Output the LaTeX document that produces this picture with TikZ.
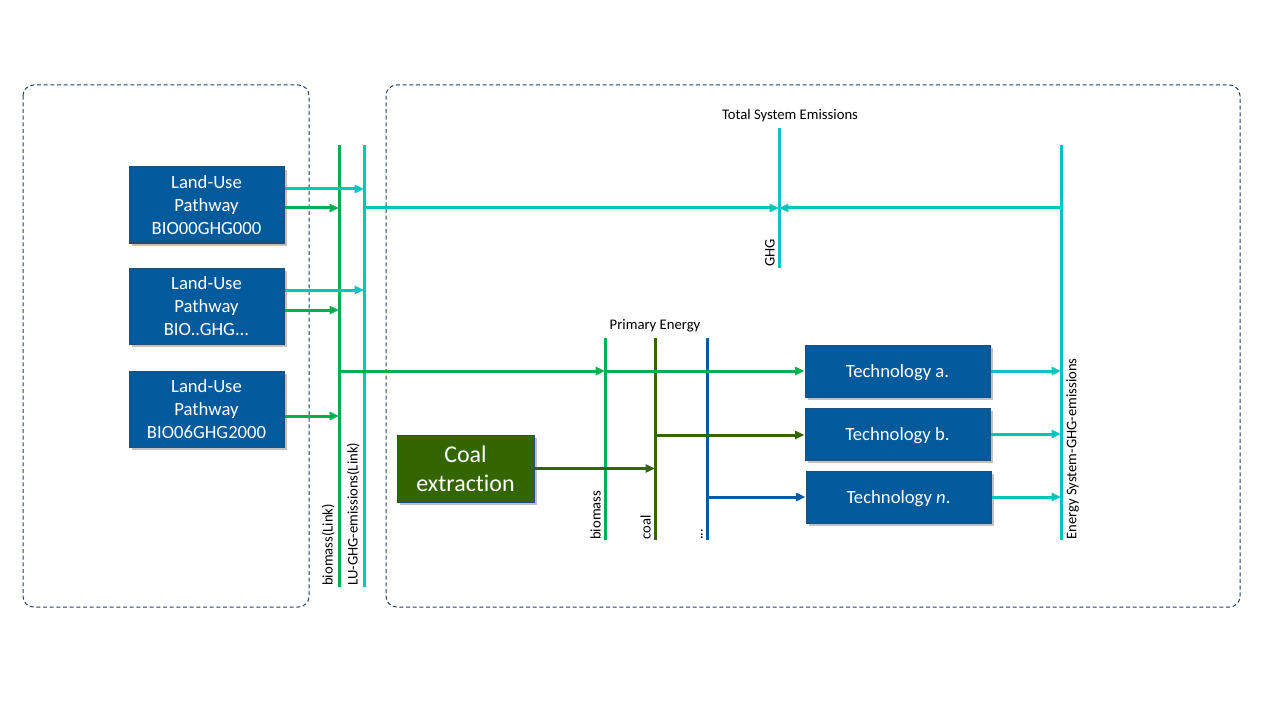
\documentclass[tikz,border=0pt]{standalone}
\usepackage{fontspec}
\setmainfont{Carlito}[RawFeature={-liga;-calt;-dlig}]
\usetikzlibrary{arrows.meta,shadows}
\definecolor{boxblue}{HTML}{005A9C}
\definecolor{boxedge}{HTML}{1F4E79}
\definecolor{coalgreen}{HTML}{336600}
\definecolor{lgreen}{HTML}{00B050}
\definecolor{ghgcyan}{HTML}{00C4BE}
\definecolor{busblue}{HTML}{0A5AA0}
\definecolor{dashblue}{HTML}{1F3F66}
\tikzset{
  region/.style={draw=dashblue, line width=0.75pt, dash pattern=on 3pt off 2pt, rounded corners=8pt},
  procbox/.style={draw=boxedge, line width=0.75pt, fill=boxblue, text=white, align=center,
    font=\fontsize{14}{17}\selectfont, inner sep=0pt,
    drop shadow={shadow xshift=2pt, shadow yshift=-2pt, opacity=0.35, fill=black!70}},
  techbox/.style={procbox, minimum width=138.75pt, minimum height=39pt, text height=10pt, text depth=0.5pt},
  bus/.style={line width=2.25pt},
  flow/.style={line width=2.25pt, -{Triangle[length=7pt,width=6pt]}},
  lbl/.style={font=\fontsize{11}{13}\selectfont, inner sep=0pt},
  vlbl/.style={font=\fontsize{11}{13}\selectfont, inner sep=0pt, rotate=90},
}
\begin{document}
\begin{tikzpicture}[x=0.75pt,y=-0.75pt]
\useasboundingbox (0,0) rectangle (1280,720);
% regions
\draw[region] (23,85) rectangle (309,607);
\draw[region] (386,85) rectangle (1240,607);
% land-use boxes
\node[procbox, minimum width=116.25pt, minimum height=57pt] (lu1) at (206.5,205) {Land-Use\\Pathway\\BIO00GHG000};
\node[procbox, minimum width=116.25pt, minimum height=57pt] (lu2) at (206.5,306) {Land-Use\\Pathway\\BIO..GHG...};
\node[procbox, minimum width=116.25pt, minimum height=57pt] (lu3) at (206.5,409) {Land-Use\\Pathway\\BIO06GHG2000};
% coal box
\node[procbox, fill=coalgreen, minimum width=102.75pt, minimum height=50.25pt, font=\fontsize{18}{21.5}\selectfont] (coal) at (465.5,468.5) {Coal\\extraction};
% technology boxes
\node[techbox] (ta) at (897.5,371) {Technology a.};
\node[techbox] (tb) at (897.5,434) {Technology b.};
\node[techbox] (tn) at (898.5,497) {Technology \emph{n}.};
% bus coordinates
\coordinate (bioT) at (339,145); \coordinate (bioB) at (339,587);
\coordinate (luT) at (364,145); \coordinate (luB) at (364,587);
\coordinate (ghgT) at (779,128); \coordinate (ghgB) at (779,268);
\coordinate (esT) at (1061,145); \coordinate (esB) at (1061,540);
\coordinate (pbT) at (605,338); \coordinate (pbB) at (605,540);
\coordinate (pcT) at (655,338); \coordinate (pcB) at (655,540);
\coordinate (pxT) at (707,338); \coordinate (pxB) at (707,540);
% buses
\draw[bus, lgreen] (bioT) -- (bioB);
\draw[bus, ghgcyan] (luT) -- (luB);
\draw[bus, ghgcyan] (ghgT) -- (ghgB);
\draw[bus, ghgcyan] (esT) -- (esB);
\draw[bus, lgreen] (pbT) -- (pbB);
\draw[bus, coalgreen] (pcT) -- (pcB);
\draw[bus, busblue] (pxT) -- (pxB);
% bus labels
\node[vlbl, anchor=south west] (lbio) at (335,586) {biomass(Link)};
\node[vlbl, anchor=south west] (llu) at (360,586) {LU-GHG-emissions(Link)};
\node[vlbl, anchor=south west] (lghg) at (775,267) {GHG};
\node[vlbl, anchor=north west] (les) at (1066,540) {Energy System-GHG-emissions};
\node[vlbl, anchor=south west] (lpb) at (601,540) {biomass};
\node[vlbl, anchor=south west] (lpc) at (651,540) {coal};
\node[vlbl, anchor=south west] (lpx) at (703,540) {...};
\node[lbl, anchor=south] (ltot) at (790,122) {Total System Emissions};
\node[lbl, anchor=south] (lpe) at (655,332) {Primary Energy};
% land-use flows
\draw[flow, ghgcyan] (lu1.east |- 0,189) -- (luT |- 0,189);
\draw[flow, lgreen] (lu1.east |- 0,208) -- (bioT |- 0,208);
\draw[flow, ghgcyan] (lu2.east |- 0,290) -- (luT |- 0,290);
\draw[flow, lgreen] (lu2.east |- 0,310) -- (bioT |- 0,310);
\draw[flow, lgreen] (lu3.east |- 0,416) -- (bioT |- 0,416);
% emissions to GHG
\draw[flow, ghgcyan] (luT |- 0,208) -- (ghgT |- 0,208);
\draw[flow, ghgcyan] (esT |- 0,208) -- (ghgT |- 0,208);
% biomass to primary energy and technology a
\draw[flow, lgreen] (bioT |- ta.west) -- (pbT |- ta.west);
\draw[flow, lgreen] (pbT |- ta.west) -- (ta.west);
% coal
\draw[flow, coalgreen] (coal.east) -- (pcT |- coal.east);
\draw[flow, coalgreen] (pcT |- 0,435) -- (tb.west |- 0,435);
% other
\draw[flow, busblue] (pxT |- 0,497) -- (tn.west |- 0,497);
% technology emissions
\draw[flow, ghgcyan] (ta.east) -- (esT |- ta.east);
\draw[flow, ghgcyan] (tb.east) -- (esT |- tb.east);
\draw[flow, ghgcyan] (tn.east) -- (esT |- tn.east);
\end{tikzpicture}
\end{document}
